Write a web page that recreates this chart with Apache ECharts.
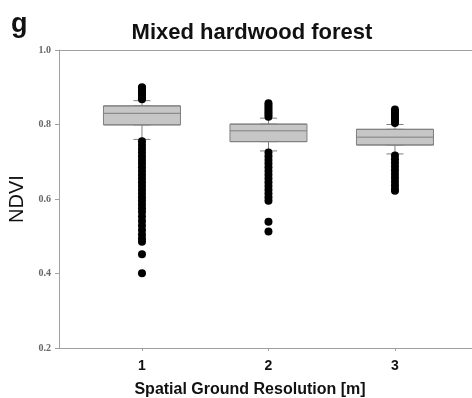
<!DOCTYPE html>
<html>
<head>
<meta charset="utf-8">
<script src="https://cdn.jsdelivr.net/npm/echarts@6/dist/echarts.min.js"></script>
<style>
  html, body { margin: 0; padding: 0; background: #fff; }
  #chart { width: 472px; height: 398px; }
</style>
</head>
<body>
<div id="chart"></div>
<script>
// values
var resolutions = [1, 2, 3];
var whiskerLow = [0.760, 0.729, 0.721];
var q1 = [0.799, 0.754, 0.745];
var median = [0.830, 0.783, 0.766];
var q3 = [0.850, 0.801, 0.787];
var whiskerHigh = [0.864, 0.817, 0.800];

var outliers1 = [0.868, 0.874, 0.880, 0.886, 0.892, 0.898, 0.900,
  0.755, 0.745, 0.735, 0.725, 0.715, 0.705, 0.695, 0.685, 0.675, 0.665,
  0.655, 0.645, 0.635, 0.625, 0.615, 0.605, 0.595, 0.585, 0.575, 0.565,
  0.553, 0.541, 0.529, 0.517, 0.505, 0.494, 0.485, 0.452, 0.401];
var outliers2 = [0.821, 0.827, 0.833, 0.839, 0.845, 0.851, 0.857,
  0.725, 0.715, 0.705, 0.695, 0.685, 0.675, 0.665, 0.655, 0.645, 0.635,
  0.625, 0.615, 0.605, 0.595, 0.539, 0.513];
var outliers3 = [0.804, 0.810, 0.816, 0.822, 0.828, 0.834, 0.840,
  0.717, 0.707, 0.697, 0.687, 0.677, 0.667, 0.657, 0.647, 0.637, 0.627, 0.622];

var chart = echarts.init(document.getElementById('chart'));

var boxData = resolutions.map(function (r, i) {
  return [r, q1[i], q1[i], median[i], q3[i], q3[i]];
});
var whiskerData = resolutions.map(function (r, i) {
  return [r, whiskerLow[i], q1[i], median[i], q3[i], whiskerHigh[i]];
});
var outlierData = [];
[outliers1, outliers2, outliers3].forEach(function (list, i) {
  list.forEach(function (v) { outlierData.push([resolutions[i], v]); });
});

var xMin = 0.344, xMax = 3.609;

var option = {
  backgroundColor: '#fff',
  animation: false,
  title: [
    {
      text: 'g', left: 6, top: 6,
      textStyle: { fontFamily: 'Liberation Sans', fontSize: 27, fontWeight: 'bold', color: '#111' }
    },
    {
      text: 'Mixed hardwood forest', left: 247, top: 17, textAlign: 'center',
      textStyle: { fontFamily: 'Liberation Sans', fontSize: 22, fontWeight: 'bold', color: '#111' }
    }
  ],
  grid: { left: 59, right: 0, top: 50, bottom: 50, outerBoundsMode: 'none' },
  xAxis: [
    {
      type: 'value', min: xMin, max: xMax,
      name: 'Spatial Ground Resolution [m]',
      nameLocation: 'middle', nameGap: 34,
      nameTextStyle: {
        fontFamily: 'Liberation Sans', fontSize: 16, fontWeight: 'bold', color: '#111',
        padding: [0, 31, 0, 0]
      },
      axisLine: { show: true, lineStyle: { color: '#a0a0a0', width: 1 } },
      axisTick: { show: true, customValues: resolutions, length: 3, lineStyle: { color: '#a0a0a0' } },
      axisLabel: {
        customValues: resolutions, margin: 11,
        fontFamily: 'Liberation Sans', fontSize: 14, fontWeight: 'bold', color: '#111'
      },
      splitLine: { show: false }
    },
    {
      type: 'value', min: xMin, max: xMax, position: 'top',
      axisLine: { show: true, onZero: false, lineStyle: { color: '#a0a0a0', width: 1 } },
      axisTick: { show: false },
      axisLabel: { show: false },
      splitLine: { show: false }
    }
  ],
  yAxis: {
    type: 'value', min: 0.2, max: 1.0, interval: 0.2,
    name: 'NDVI', nameLocation: 'middle', nameRotate: 90, nameGap: 14,
    nameTextStyle: { fontFamily: 'Liberation Sans', fontSize: 20, color: '#111' },
    axisLine: { show: true, lineStyle: { color: '#a0a0a0', width: 1 } },
    axisTick: { show: true, length: 4, lineStyle: { color: '#a0a0a0' } },
    axisLabel: {
      margin: 8, fontFamily: 'Liberation Serif', fontSize: 10, fontWeight: 'bold', color: '#666',
      formatter: function (v) { return v.toFixed(1); }
    },
    splitLine: { show: false }
  },
  series: [
    {
      type: 'boxplot', xAxisIndex: 1, data: whiskerData,
      boxWidth: [17, 17],
      itemStyle: { color: '#c6c6c6', borderColor: '#7f7f7f', borderWidth: 1 }
    },
    {
      type: 'boxplot', xAxisIndex: 0, data: boxData,
      boxWidth: [77, 77],
      itemStyle: { color: '#c6c6c6', borderColor: '#7f7f7f', borderWidth: 1 }
    },
    {
      type: 'scatter', xAxisIndex: 0, data: outlierData,
      symbolSize: 8,
      itemStyle: { color: '#000', opacity: 1 }
    }
  ]
};

chart.setOption(option);
</script>
</body>
</html>
